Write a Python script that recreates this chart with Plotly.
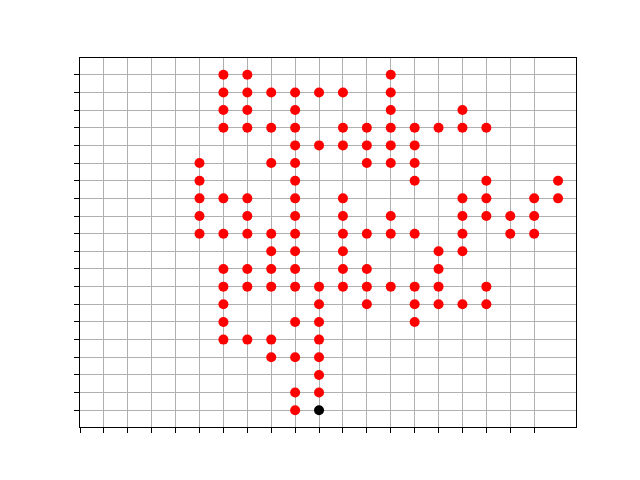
import plotly.graph_objects as go

# Red points: (column, row) per row
rows = {
    19: [6, 7, 13],
    18: [6, 7, 8, 9, 10, 11, 13],
    17: [6, 7, 9, 13, 16],
    16: [6, 7, 8, 9, 11, 12, 13, 14, 15, 16, 17],
    15: [9, 10, 11, 12, 13, 14],
    14: [5, 8, 9, 12, 13, 14],
    13: [5, 9, 14, 17, 20],
    12: [5, 6, 7, 9, 11, 16, 17, 19, 20],
    11: [5, 7, 9, 11, 13, 16, 17, 18, 19],
    10: [5, 6, 7, 8, 9, 11, 12, 13, 14, 16, 18, 19],
    9: [8, 9, 11, 15, 16],
    8: [6, 7, 8, 9, 11, 12, 15],
    7: [6, 7, 8, 9, 10, 11, 12, 13, 14, 15, 17],
    6: [6, 10, 12, 14, 15, 16, 17],
    5: [6, 9, 10, 14],
    4: [6, 7, 8, 10],
    3: [8, 9, 10],
    2: [10],
    1: [9, 10],
    0: [9],
}
red_x = [c for r, cols in rows.items() for c in cols]
red_y = [r for r, cols in rows.items() for c in cols]

black_x = [10]
black_y = [0]

x_ticks = list(range(20))
y_ticks = list(range(20))

fig = go.Figure()
fig.add_trace(go.Scatter(x=red_x, y=red_y, mode="markers",
                         marker=dict(color="red", size=10, line=dict(width=0)),
                         showlegend=False, hoverinfo="skip"))
fig.add_trace(go.Scatter(x=black_x, y=black_y, mode="markers",
                         marker=dict(color="black", size=10, line=dict(width=0)),
                         showlegend=False, hoverinfo="skip"))

axis_common = dict(
    showticklabels=False, ticks="outside", ticklen=5, tickwidth=1, tickcolor="black",
    showgrid=True, gridcolor="#b0b0b0", gridwidth=1, zeroline=False,
    showline=True, linecolor="black", linewidth=1, mirror=True,
)
fig.update_xaxes(range=[0, 20.75], tickmode="array", tickvals=x_ticks, **axis_common)
fig.update_yaxes(range=[-0.95, 19.95], tickmode="array", tickvals=y_ticks, **axis_common)

fig.update_layout(
    width=640, height=480,
    margin=dict(l=80, r=64, t=58, b=53),
    paper_bgcolor="white", plot_bgcolor="white",
)
fig.write_html("out.html")
